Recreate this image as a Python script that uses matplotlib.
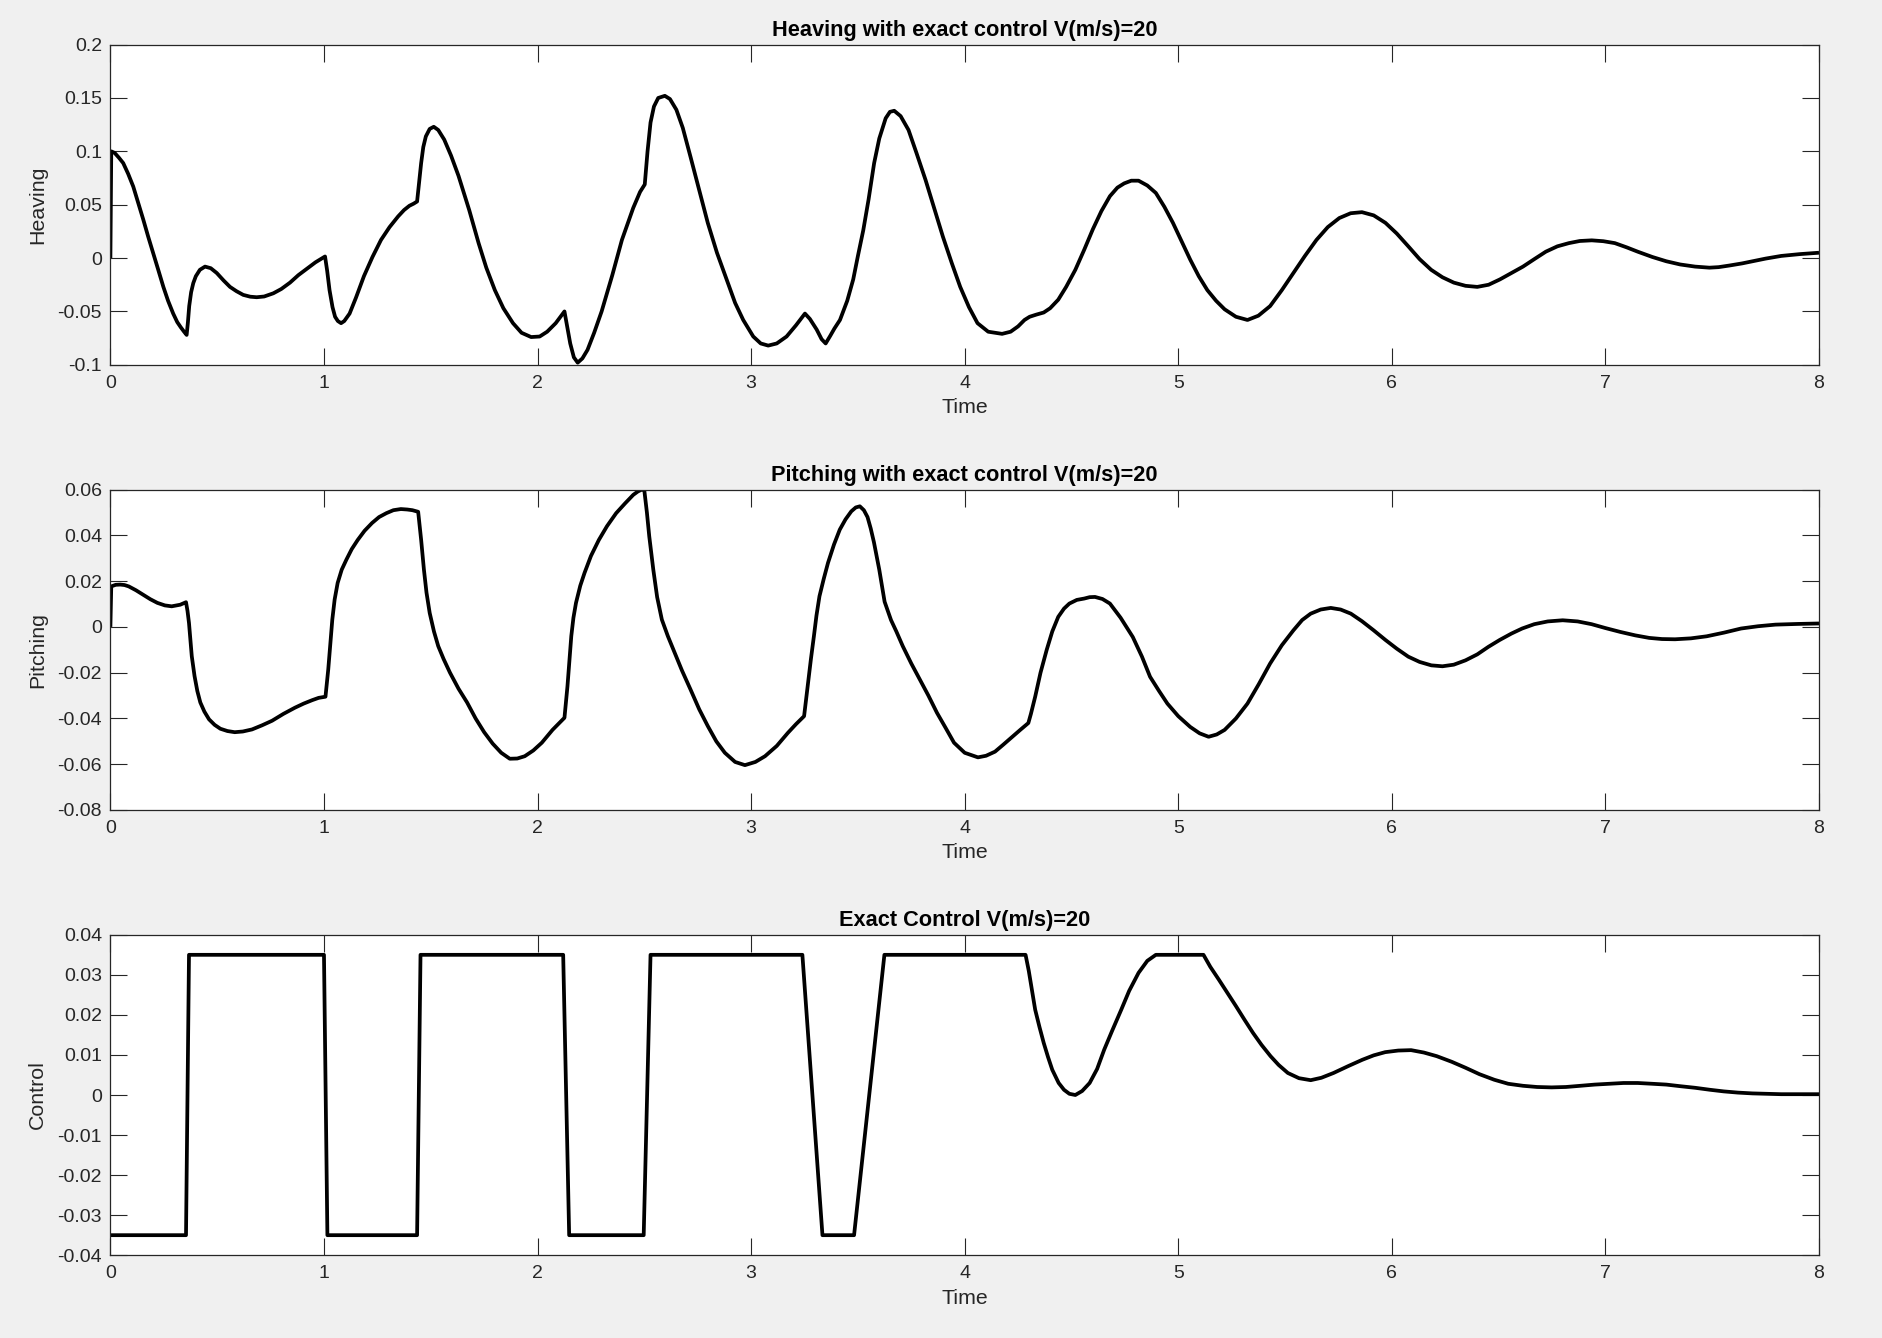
import matplotlib
matplotlib.use("Agg")
import matplotlib.pyplot as plt

plt.rcParams['font.family'] = ['Liberation Sans', 'DejaVu Sans']

# ---------------- data ----------------
heave_t = [0, 0.004, 0.02, 0.04, 0.06, 0.083, 0.107, 0.13, 0.154, 0.177, 0.2, 0.224, 0.248,
           0.27, 0.294, 0.313, 0.33, 0.345, 0.357, 0.363, 0.369, 0.378, 0.388, 0.40, 0.419,
           0.443, 0.47, 0.498, 0.53, 0.56, 0.59, 0.622, 0.655, 0.685, 0.72, 0.763, 0.80, 0.841,
           0.88, 0.92, 0.96, 1.005, 1.015, 1.026, 1.04, 1.052, 1.065, 1.08, 1.095, 1.12, 1.15,
           1.187, 1.227, 1.267, 1.307, 1.347, 1.375, 1.40, 1.42, 1.436, 1.445, 1.455, 1.465,
           1.477, 1.495, 1.514, 1.535, 1.563, 1.595, 1.63, 1.68, 1.724, 1.76, 1.80, 1.84, 1.885,
           1.925, 1.97, 2.01, 2.045, 2.085, 2.126, 2.153, 2.17, 2.188, 2.21, 2.234, 2.265, 2.30,
           2.35, 2.395, 2.448, 2.48, 2.502, 2.515, 2.529, 2.545, 2.565, 2.596, 2.62, 2.65, 2.68,
           2.716, 2.755, 2.797, 2.84, 2.885, 2.925, 2.963, 3.01, 3.045, 3.08, 3.12, 3.166, 3.21,
           3.252, 3.275, 3.307, 3.33, 3.349, 3.37, 3.39, 3.416, 3.45, 3.478, 3.50, 3.525, 3.55,
           3.576, 3.60, 3.63, 3.65, 3.67, 3.70, 3.737, 3.775, 3.817, 3.858, 3.898, 3.94, 3.979,
           4.02, 4.06, 4.11, 4.175, 4.215, 4.25, 4.28, 4.304, 4.335, 4.37, 4.40, 4.438, 4.475,
           4.518, 4.56, 4.60, 4.64, 4.68, 4.715, 4.747, 4.78, 4.814, 4.855, 4.895, 4.935, 4.975,
           5.015, 5.056, 5.096, 5.136, 5.177, 5.217, 5.27, 5.324, 5.375, 5.43, 5.485, 5.539,
           5.593, 5.647, 5.70, 5.754, 5.807, 5.86, 5.915, 5.97, 6.023, 6.077, 6.13, 6.184,
           6.237, 6.29, 6.345, 6.40, 6.453, 6.506, 6.56, 6.614, 6.667, 6.721, 6.775, 6.829,
           6.88, 6.936, 6.99, 7.044, 7.10, 7.151, 7.22, 7.285, 7.35, 7.42, 7.487, 7.53, 7.58,
           7.64, 7.688, 7.75, 7.823, 7.91, 8.0]
heave_y = [0, 0.100, 0.0985, 0.094, 0.089, 0.079, 0.067, 0.052, 0.036, 0.020, 0.005, -0.011,
           -0.027, -0.040, -0.052, -0.060, -0.065, -0.069, -0.072, -0.060, -0.045, -0.032,
           -0.0235, -0.017, -0.011, -0.008, -0.0095, -0.014, -0.021, -0.027, -0.031, -0.0345,
           -0.0362, -0.0367, -0.036, -0.033, -0.029, -0.023, -0.016, -0.010, -0.004, 0.0015,
           -0.012, -0.030, -0.046, -0.055, -0.059, -0.061, -0.059, -0.052, -0.037, -0.017,
           0.001, 0.017, 0.029, 0.039, 0.045, 0.049, 0.051, 0.053, 0.070, 0.089, 0.104, 0.114,
           0.121, 0.123, 0.120, 0.111, 0.096, 0.077, 0.045, 0.014, -0.009, -0.030, -0.047,
           -0.061, -0.070, -0.074, -0.0735, -0.069, -0.061, -0.050, -0.080, -0.093, -0.098,
           -0.094, -0.086, -0.070, -0.050, -0.016, 0.017, 0.047, 0.062, 0.069, 0.100, 0.127,
           0.142, 0.150, 0.152, 0.149, 0.139, 0.122, 0.095, 0.065, 0.033, 0.005, -0.020, -0.042,
           -0.058, -0.0735, -0.080, -0.082, -0.080, -0.0735, -0.063, -0.052, -0.057, -0.067,
           -0.076, -0.080, -0.073, -0.066, -0.058, -0.040, -0.020, 0.002, 0.026, 0.055, 0.089,
           0.112, 0.131, 0.137, 0.138, 0.133, 0.120, 0.098, 0.073, 0.046, 0.020, -0.005, -0.027,
           -0.046, -0.061, -0.069, -0.071, -0.069, -0.064, -0.058, -0.055, -0.053, -0.051,
           -0.047, -0.039, -0.027, -0.011, 0.008, 0.027, 0.044, 0.058, 0.066, 0.070, 0.0725,
           0.0725, 0.068, 0.061, 0.048, 0.033, 0.016, -0.0015, -0.017, -0.030, -0.040, -0.048,
           -0.055, -0.058, -0.054, -0.045, -0.030, -0.014, 0.002, 0.017, 0.029, 0.0375, 0.042,
           0.043, 0.040, 0.033, 0.023, 0.011, -0.001, -0.011, -0.018, -0.023, -0.026, -0.027,
           -0.025, -0.020, -0.014, -0.008, -0.001, 0.006, 0.011, 0.014, 0.016, 0.0166, 0.0158,
           0.014, 0.010, 0.006, 0.001, -0.003, -0.006, -0.008, -0.009, -0.0085, -0.007, -0.005,
           -0.003, -0.0005, 0.002, 0.0037, 0.005]

pitch_t = [0, 0.004, 0.025, 0.046, 0.066, 0.086, 0.12, 0.153, 0.187, 0.22, 0.255, 0.287,
           0.327, 0.354, 0.361, 0.368, 0.381, 0.394, 0.407, 0.421, 0.44, 0.462, 0.488, 0.515,
           0.548, 0.582, 0.62, 0.663, 0.71, 0.757, 0.81, 0.864, 0.905, 0.945, 0.975, 1.007,
           1.013, 1.02, 1.029, 1.039, 1.05, 1.064, 1.083, 1.105, 1.13, 1.158, 1.19, 1.225,
           1.258, 1.292, 1.325, 1.36, 1.39, 1.414, 1.441, 1.455, 1.468, 1.48, 1.495, 1.515,
           1.535, 1.56, 1.59, 1.63, 1.67, 1.71, 1.75, 1.79, 1.83, 1.87, 1.905, 1.94, 1.98, 2.02,
           2.07, 2.126, 2.133, 2.14, 2.149, 2.158, 2.168, 2.18, 2.20, 2.22, 2.25, 2.287, 2.325,
           2.368, 2.41, 2.448, 2.47, 2.488, 2.50, 2.512, 2.523, 2.542, 2.56, 2.582, 2.61, 2.636,
           2.676, 2.716, 2.757, 2.797, 2.837, 2.877, 2.925, 2.971, 3.02, 3.065, 3.12, 3.172,
           3.21, 3.248, 3.257, 3.267, 3.28, 3.294, 3.306, 3.32, 3.34, 3.36, 3.388, 3.415, 3.442,
           3.469, 3.49, 3.509, 3.528, 3.545, 3.56, 3.575, 3.60, 3.625, 3.655, 3.68, 3.71, 3.75,
           3.79, 3.83, 3.87, 3.91, 3.95, 4.0, 4.062, 4.10, 4.142, 4.18, 4.223, 4.26, 4.298,
           4.31, 4.33, 4.355, 4.384, 4.41, 4.438, 4.465, 4.49, 4.525, 4.56, 4.585, 4.61, 4.645,
           4.68, 4.73, 4.787, 4.83, 4.868, 4.91, 4.949, 5.0, 5.056, 5.1, 5.142, 5.18, 5.217,
           5.27, 5.324, 5.377, 5.43, 5.485, 5.539, 5.58, 5.62, 5.667, 5.714, 5.76, 5.808, 5.86,
           5.915, 5.97, 6.023, 6.077, 6.13, 6.185, 6.237, 6.29, 6.345, 6.4, 6.452, 6.505, 6.56,
           6.61, 6.667, 6.73, 6.80, 6.87, 6.935, 7.0, 7.07, 7.14, 7.205, 7.265, 7.326, 7.4,
           7.474, 7.555, 7.635, 7.715, 7.796, 7.9, 8.0]
pitch_y = [0, 0.0177, 0.0184, 0.0185, 0.0183, 0.0177, 0.016, 0.0141, 0.0121, 0.0105, 0.0094,
           0.009, 0.0097, 0.0108, 0.007, 0.0017, -0.0128, -0.0215, -0.028, -0.033, -0.037,
           -0.0404, -0.0428, -0.0445, -0.0455, -0.046, -0.0457, -0.0448, -0.043, -0.041, -0.038,
           -0.0353, -0.0335, -0.032, -0.031, -0.0305, -0.025, -0.0186, -0.008, 0.0032, 0.012,
           0.0192, 0.025, 0.0294, 0.034, 0.038, 0.042, 0.0454, 0.048, 0.0497, 0.051, 0.0515,
           0.0513, 0.051, 0.0503, 0.038, 0.025, 0.015, 0.0061, -0.002, -0.0084, -0.014, -0.020,
           -0.027, -0.033, -0.040, -0.046, -0.051, -0.055, -0.0576, -0.0575, -0.0565, -0.054,
           -0.0506, -0.045, -0.0397, -0.033, -0.026, -0.015, -0.004, 0.004, 0.0105, 0.018,
           0.0236, 0.031, 0.038, 0.044, 0.0497, 0.054, 0.0577, 0.0592, 0.060, 0.0596, 0.050,
           0.0396, 0.025, 0.013, 0.0032, -0.004, -0.0099, -0.019, -0.0273, -0.036, -0.0433,
           -0.050, -0.055, -0.059, -0.0604, -0.059, -0.0565, -0.052, -0.0463, -0.0425, -0.039,
           -0.032, -0.0244, -0.014, -0.004, 0.005, 0.0134, 0.021, 0.028, 0.036, 0.0425, 0.047,
           0.0505, 0.0522, 0.0527, 0.051, 0.048, 0.043, 0.037, 0.025, 0.011, 0.003, -0.002,
           -0.0084, -0.016, -0.023, -0.030, -0.0375, -0.044, -0.0506, -0.055, -0.057, -0.0563,
           -0.0545, -0.0515, -0.048, -0.045, -0.042, -0.038, -0.0305, -0.020, -0.010, -0.002,
           0.0044, 0.008, 0.0102, 0.0118, 0.0124, 0.013, 0.0131, 0.0122, 0.0102, 0.004, -0.0044,
           -0.013, -0.0218, -0.028, -0.0335, -0.039, -0.0437, -0.0465, -0.048, -0.047, -0.045,
           -0.040, -0.0335, -0.025, -0.016, -0.008, -0.0015, 0.003, 0.0058, 0.0076, 0.0083,
           0.0076, 0.0058, 0.0025, -0.0015, -0.0057, -0.0095, -0.013, -0.0153, -0.0168, -0.0172,
           -0.0165, -0.0146, -0.012, -0.0087, -0.0057, -0.0029, -0.0007, 0.0012, 0.0024, 0.0029,
           0.0024, 0.0012, -0.0005, -0.0022, -0.0037, -0.0048, -0.0053, -0.0054, -0.005, -0.0041,
           -0.0025, -0.0007, 0.0003, 0.001, 0.0013, 0.0015]

ctrl_t = [0, 0.354, 0.368, 1.0, 1.016, 1.436, 1.452, 2.12, 2.148, 2.497, 2.529, 3.24, 3.334,
          3.482, 3.624, 4.285, 4.30, 4.33, 4.35, 4.37, 4.39, 4.41, 4.44, 4.465, 4.49, 4.518,
          4.55, 4.585, 4.62, 4.653, 4.69, 4.733, 4.77, 4.814, 4.855, 4.895, 5.118, 5.15, 5.19,
          5.23, 5.27, 5.31, 5.35, 5.39, 5.432, 5.47, 5.513, 5.565, 5.62, 5.67, 5.727, 5.795,
          5.862, 5.915, 5.969, 6.03, 6.09, 6.15, 6.21, 6.28, 6.345, 6.41, 6.48, 6.545, 6.614,
          6.68, 6.748, 6.815, 6.883, 6.95, 7.017, 7.085, 7.151, 7.22, 7.285, 7.35, 7.42, 7.49,
          7.554, 7.62, 7.688, 7.755, 7.823, 7.91, 8.0]
ctrl_y = [-0.035, -0.035, 0.035, 0.035, -0.035, -0.035, 0.035, 0.035, -0.035, -0.035, 0.035,
          0.035, -0.035, -0.035, 0.035, 0.035, 0.031, 0.0213, 0.017, 0.013, 0.0095, 0.0063,
          0.003, 0.0013, 0.0003, 0.0, 0.001, 0.003, 0.0065, 0.0113, 0.016, 0.0213, 0.026,
          0.0305, 0.0335, 0.035, 0.035, 0.032, 0.0288, 0.0255, 0.0222, 0.0188, 0.0155, 0.0125,
          0.0097, 0.0075, 0.0055, 0.0042, 0.0037, 0.0043, 0.0055, 0.0072, 0.0088, 0.0099,
          0.0107, 0.0111, 0.0112, 0.0106, 0.0097, 0.0083, 0.0068, 0.0052, 0.0038, 0.0028,
          0.0023, 0.002, 0.0019, 0.002, 0.0023, 0.0026, 0.0028, 0.003, 0.003, 0.0028, 0.0026,
          0.0022, 0.0018, 0.0013, 0.0009, 0.0006, 0.0004, 0.0003, 0.0002, 0.0002, 0.0002]

titles = ["Heaving with exact control V(m/s)=20",
          "Pitching with exact control V(m/s)=20",
          "Exact Control V(m/s)=20"]
ylabels = ["Heaving", "Pitching", "Control"]
xlabel = "Time"
x_ticks = [0, 1, 2, 3, 4, 5, 6, 7, 8]
x_ticklabels = ["0", "1", "2", "3", "4", "5", "6", "7", "8"]
y_ticks = [[-0.1, -0.05, 0, 0.05, 0.1, 0.15, 0.2],
           [-0.08, -0.06, -0.04, -0.02, 0, 0.02, 0.04, 0.06],
           [-0.04, -0.03, -0.02, -0.01, 0, 0.01, 0.02, 0.03, 0.04]]
y_ticklabels = [["-0.1", "-0.05", "0", "0.05", "0.1", "0.15", "0.2"],
                ["-0.08", "-0.06", "-0.04", "-0.02", "0", "0.02", "0.04", "0.06"],
                ["-0.04", "-0.03", "-0.02", "-0.01", "0", "0.01", "0.02", "0.03", "0.04"]]
y_lims = [(-0.1, 0.2), (-0.08, 0.06), (-0.04, 0.04)]
series = [(heave_t, heave_y), (pitch_t, pitch_y), (ctrl_t, ctrl_y)]

# ---------------- figure ----------------
W, H = 1882, 1338
fig = plt.figure(figsize=(W / 100, H / 100), dpi=100, facecolor='#f0f0f0')

left, right = 110.4, 1819.0
tops = [44.6, 489.6, 934.8]
bottoms = [364.8, 810.0, 1255.2]
edge = '#262626'

for i in range(3):
    ax = fig.add_axes([left / W, 1 - bottoms[i] / H, (right - left) / W,
                       (bottoms[i] - tops[i]) / H])
    ax.set_facecolor('white')
    t, y = series[i]
    ax.plot(t, y, color='black', lw=2.7, solid_joinstyle='round', solid_capstyle='butt')
    ax.set_xlim(0, 8)
    ax.set_ylim(*y_lims[i])
    ax.set_xticks(x_ticks)
    ax.set_xticklabels(x_ticklabels)
    ax.set_yticks(y_ticks[i])
    ax.set_yticklabels(y_ticklabels[i])
    for s in ax.spines.values():
        s.set_color(edge)
        s.set_linewidth(0.9)
    ax.tick_params(axis='both', which='both', direction='in', length=12.5, width=0.8,
                   color=edge, labelcolor=edge, labelsize=14,
                   top=True, right=True)
    ax.tick_params(axis='x', pad=7)
    ax.tick_params(axis='y', pad=6)
    ax.set_title(titles[i], fontsize=15.7, fontweight='bold', color='black', pad=6.5)
    ax.set_xlabel(xlabel, fontsize=15.4, color=edge)
    ax.set_ylabel(ylabels[i], fontsize=15.4, color=edge)
    ax.xaxis.set_label_coords(0.5, -0.104)
    ax.xaxis.label.set_va('top')
    ax.yaxis.set_label_coords(-0.037, 0.5)

fig.savefig("out.png", dpi=100, facecolor=fig.get_facecolor())
